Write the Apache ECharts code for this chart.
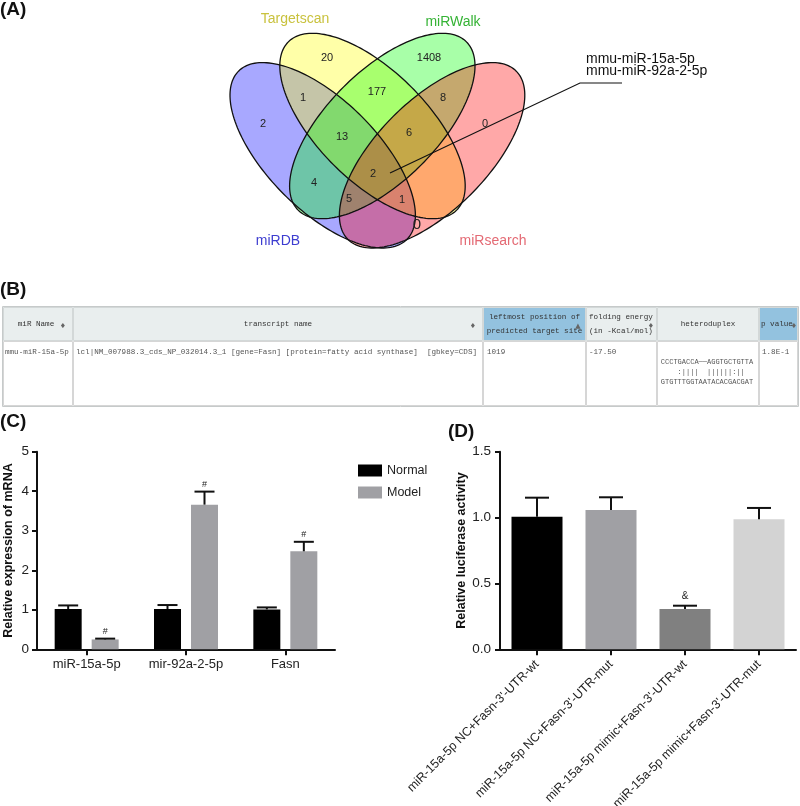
<!DOCTYPE html>
<html><head><meta charset="utf-8">
<script src="https://cdn.jsdelivr.net/npm/echarts@6/dist/echarts.min.js"></script>
<style>html,body{margin:0;padding:0;background:#fff}#c{width:800px;height:806px}</style>
</head><body><div id="c"></div>
<script>
// ---------- Panel A: Venn data ----------
const vennSets = ['miRDB', 'Targetscan', 'miRWalk', 'miRsearch'];
const vennRegions = ['miRDB', 'Targetscan', 'miRWalk', 'miRsearch', 'miRDB&Targetscan', 'Targetscan&miRWalk',
  'miRWalk&miRsearch', 'miRDB&Targetscan&miRWalk', 'Targetscan&miRWalk&miRsearch', 'all four',
  'miRDB&miRWalk', 'miRDB&miRWalk&miRsearch', 'miRDB&Targetscan&miRsearch', 'miRDB&miRsearch'];
const vennCounts = [2, 20, 1408, 0, 1, 177, 8, 13, 6, 2, 4, 5, 1, 0];
const vennCallout = ['mmu-miR-15a-5p', 'mmu-miR-92a-2-5p'];

// ---------- Panel B: table data ----------
const tableHeaders = ['miR Name', 'transcript name', 'leftmost position of\npredicted target site',
  'folding energy\n(in -Kcal/mol)', 'heteroduplex', 'p value'];
const tableRow = ['mmu-miR-15a-5p',
  'lcl|NM_007988.3_cds_NP_032014.3_1 [gene=Fasn] [protein=fatty acid synthase]  [gbkey=CDS]',
  '1019', '-17.50',
  'CCCTGACCA\u2500\u2500AGGTGCTGTTA\n    :||||  ||||||:||  \nGTGTTTGGTAATACACGACGAT', '1.8E-1'];

// ---------- Panel C data ----------
const genes = ['miR-15a-5p', 'mir-92a-2-5p', 'Fasn'];
const normalMean = [1.02, 1.02, 1.01];
const normalSD = [0.09, 0.10, 0.05];
const modelMean = [0.25, 3.66, 2.48];
const modelSD = [0.02, 0.33, 0.24];
const modelMarks = ['#', '#', '#'];

// ---------- Panel D data ----------
const groups = ["miR-15a-5p NC+Fasn-3'-UTR-wt", "miR-15a-5p NC+Fasn-3'-UTR-mut",
  "miR-15a-5p mimic+Fasn-3'-UTR-wt", "miR-15a-5p mimic+Fasn-3'-UTR-mut"];
const lucMean = [1.007, 1.058, 0.306, 0.987];
const lucSD = [0.144, 0.096, 0.025, 0.086];
const lucMarks = ['', '', '&', ''];

// ---------- layout & style ----------
const FF = "'Liberation Sans', Arial, Helvetica, sans-serif";
const MONO = "'Liberation Mono', 'Courier New', monospace";
// Venn drawn in its own hidden cartesian grid (units = px, y up)
const vennShapes = [
  { cx: 122.7, cy: 144.7, rot: -45 }, { cx: 172.5, cy: 174, rot: -45 },
  { cx: 182.3, cy: 174, rot: 45 }, { cx: 232.1, cy: 144.7, rot: 45 }];
const vennA = 119, vennB = 55;
const vennFills = ['rgba(0,0,255,0.34)', 'rgba(255,255,0,0.34)', 'rgba(0,255,0,0.34)', 'rgba(255,0,0,0.34)'];
const vennLabelColors = ['#3d3dd0', '#c9c23e', '#35b335', '#e46a74'];
const vennLabelPos = [[78, 59], [95, 281], [253, 278], [293, 59]];
const vennCountPos = [[63, 176], [127, 242], [229, 242], [285, 176], [103, 202], [177, 208], [243, 202],
  [142, 163], [209, 167], [173, 126], [114, 117], [149, 101], [202, 100], [217, 75]];
const vennCountSize = [11, 11, 11, 11, 11, 11, 11, 11, 11, 11, 11, 11, 11, 15];
const calloutPath = [[190, 127], [380, 217], [422, 217]];
const calloutTextPos = [386, 241, 229];

function ellipsePoints(e, api) {
  const pts = [], r = e.rot * Math.PI / 180;
  for (let i = 0; i < 180; i++) {
    const t = i / 180 * 2 * Math.PI;
    const x = e.cx + vennA * Math.cos(t) * Math.cos(r) - vennB * Math.sin(t) * Math.sin(r);
    const y = e.cy + vennA * Math.cos(t) * Math.sin(r) + vennB * Math.sin(t) * Math.cos(r);
    pts.push(api.coord([x, y]));
  }
  return pts;
}

// table layout
const colEdges = [3, 73, 483, 586, 657, 759, 798];
const headTop = 307, headBot = 341, rowBot = 406;
const headFill = ['#e9eeee', '#e9eeee', '#93c2df', '#e9eeee', '#e9eeee', '#93c2df'];
const headLayout = [{ x: 36, a: 'center' }, { x: 278, a: 'center' }, { x: 534.5, a: 'center' },
  { x: 589, a: 'left' }, { x: 708, a: 'center' }, { x: 761, a: 'left' }];
const headIcons = [{ x: 63, t: '\u2666' }, { x: 473, t: '\u2666' }, { x: 578, t: '\u25B2' },
  { x: 651, t: '\u2666' }, null, { x: 794, t: '\u2666' }];
const bodyLayout = [{ x: 5, a: 'left', y: 352 }, { x: 76, a: 'left', y: 352 }, { x: 487, a: 'left', y: 352 },
  { x: 589, a: 'left', y: 352 }, { x: 707, a: 'center', y: 372, lh: 10, fs: 7 }, { x: 762, a: 'left', y: 352 }];

const graphics = [];
[['(A)', 0, 10], ['(B)', 0, 290], ['(C)', 0, 422], ['(D)', 448, 432]].forEach(p => {
  graphics.push({ type: 'text', x: p[1], y: p[2], style: { text: p[0], font: 'bold 19px ' + FF, fill: '#111', verticalAlign: 'middle' } });
});
for (let i = 0; i < 6; i++) {
  const x0 = colEdges[i], x1 = colEdges[i + 1];
  graphics.push({ type: 'rect', shape: { x: x0 + 0.5, y: headTop + 0.5, width: x1 - x0 - 1, height: headBot - headTop - 1 },
    style: { fill: headFill[i], stroke: '#d3d8d8', lineWidth: 1 } });
  graphics.push({ type: 'rect', shape: { x: x0 + 0.5, y: headBot + 0.5, width: x1 - x0 - 1, height: rowBot - headBot - 1 },
    style: { fill: '#fff', stroke: '#d6d6d6', lineWidth: 1 } });
  const hl = headLayout[i];
  graphics.push({ type: 'text', x: hl.x, y: (headTop + headBot) / 2, style: { text: tableHeaders[i], font: '7.6px ' + MONO,
    fill: '#333', align: hl.a, verticalAlign: 'middle', lineHeight: 14 } });
  if (headIcons[i]) graphics.push({ type: 'text', x: headIcons[i].x, y: (headTop + headBot) / 2 + 2, style: { text: headIcons[i].t,
    font: '7px DejaVu Sans', fill: '#666', align: 'center', verticalAlign: 'middle' } });
  const bl = bodyLayout[i];
  graphics.push({ type: 'text', x: bl.x, y: bl.y, style: { text: tableRow[i], font: (bl.fs || 7.6) + 'px ' + MONO,
    fill: '#555', align: bl.a, verticalAlign: 'middle', lineHeight: bl.lh || 10 } });
}
graphics.push({ type: 'rect', shape: { x: 2.5, y: headTop - 0.5, width: 796, height: rowBot - headTop + 1 },
  style: { fill: 'none', stroke: '#c6caca', lineWidth: 1 } });

function errSeries(xi, yi, means, sds, marks, offset, capW, markSize, markGap) {
  return {
    type: 'custom', xAxisIndex: xi, yAxisIndex: yi, z: 5, clip: false,
    data: means.map((m, i) => [i, m, sds[i]]),
    renderItem: (p, api) => {
      const i = api.value(0), m = api.value(1), s = api.value(2);
      const b = api.coord([i, m]), t = api.coord([i, m + s]);
      const x = b[0] + offset;
      const st = { stroke: '#111', lineWidth: 2 };
      const ch = [
        { type: 'line', shape: { x1: x, y1: b[1], x2: x, y2: t[1] }, style: st },
        { type: 'line', shape: { x1: x - capW / 2, y1: t[1], x2: x + capW / 2, y2: t[1] }, style: st }];
      if (marks[i]) ch.push({ type: 'text', x: x, y: t[1] - markGap, style: { text: marks[i], font: markSize + 'px ' + FF,
        fill: '#222', align: 'center', verticalAlign: 'middle' } });
      return { type: 'group', children: ch };
    }
  };
}

const axisLine = { show: true, lineStyle: { color: '#111', width: 2 } };
const chart = echarts.init(document.getElementById('c'));
chart.setOption({
  animation: false,
  backgroundColor: '#fff',
  graphic: graphics,
  grid: [
    { left: 200, width: 350, top: 0, height: 300, outerBoundsMode: 'none', containLabel: false },
    { left: 37, width: 298, top: 451.7, height: 197.6, outerBoundsMode: 'none', containLabel: false },
    { left: 500, width: 296, top: 451.7, height: 197.6, outerBoundsMode: 'none', containLabel: false }],
  legend: {
    data: ['Normal', 'Model'], orient: 'vertical', left: 353, top: 459, itemWidth: 24, itemHeight: 12, itemGap: 9,
    icon: 'rect', textStyle: { fontFamily: FF, fontSize: 12.5, color: '#222' }, itemStyle: { borderWidth: 0 }
  },
  xAxis: [
    { type: 'value', gridIndex: 0, min: 0, max: 350, show: false },
    { type: 'category', gridIndex: 1, data: genes, axisLine: axisLine,
      axisTick: { show: true, alignWithLabel: true, length: 6, lineStyle: { color: '#111', width: 2 } },
      axisLabel: { fontFamily: FF, fontSize: 13, color: '#222', margin: 9 } },
    { type: 'category', gridIndex: 2, data: groups, axisLine: axisLine,
      axisTick: { show: true, alignWithLabel: true, length: 6, lineStyle: { color: '#111', width: 2 } },
      axisLabel: { fontFamily: FF, fontSize: 12.4, color: '#222', rotate: 45, interval: 0, margin: 13 } }],
  yAxis: [
    { type: 'value', gridIndex: 0, min: 0, max: 300, show: false },
    { type: 'value', gridIndex: 1, min: 0, max: 5, interval: 1, axisLine: axisLine, splitLine: { show: false },
      axisTick: { show: true, length: 5, lineStyle: { color: '#111', width: 2 } },
      axisLabel: { fontFamily: FF, fontSize: 13.5, color: '#222', margin: 8 },
      name: 'Relative expression of mRNA', nameLocation: 'middle', nameGap: 22,
      nameTextStyle: { fontFamily: FF, fontSize: 12.5, fontWeight: 'bold', color: '#111' } },
    { type: 'value', gridIndex: 2, min: 0, max: 1.5, interval: 0.5, axisLine: axisLine, splitLine: { show: false },
      axisTick: { show: true, length: 5, lineStyle: { color: '#111', width: 2 } },
      axisLabel: { fontFamily: FF, fontSize: 13.5, color: '#222', margin: 9, formatter: v => v.toFixed(1) },
      name: 'Relative luciferase activity', nameLocation: 'middle', nameGap: 31,
      nameTextStyle: { fontFamily: FF, fontSize: 12.5, fontWeight: 'bold', color: '#111' } }],
  series: [
    { type: 'custom', xAxisIndex: 0, yAxisIndex: 0, clip: false, silent: true,
      data: vennShapes.map(e => [e.cx, e.cy]),
      renderItem: (p, api) => ({ type: 'polygon', shape: { points: ellipsePoints(vennShapes[p.dataIndex], api) },
        style: { fill: vennFills[p.dataIndex], stroke: 'none' } }) },
    { type: 'custom', xAxisIndex: 0, yAxisIndex: 0, clip: false, silent: true, z: 3,
      data: vennShapes.map(e => [e.cx, e.cy]),
      renderItem: (p, api) => ({ type: 'polygon', shape: { points: ellipsePoints(vennShapes[p.dataIndex], api) },
        style: { fill: 'none', stroke: '#111', lineWidth: 1.3 } }) },
    { type: 'custom', xAxisIndex: 0, yAxisIndex: 0, clip: false, silent: true, z: 4,
      data: [calloutPath[0]],
      renderItem: (p, api) => {
        const pts = calloutPath.map(c => api.coord(c));
        const t1 = api.coord([calloutTextPos[0], calloutTextPos[1]]);
        const t2 = api.coord([calloutTextPos[0], calloutTextPos[2]]);
        return { type: 'group', children: [
          { type: 'polyline', shape: { points: pts }, style: { stroke: '#111', lineWidth: 1.2, fill: 'none' } },
          { type: 'text', x: t1[0], y: t1[1], style: { text: vennCallout[0], font: '14px ' + FF, fill: '#111', verticalAlign: 'middle' } },
          { type: 'text', x: t2[0], y: t2[1], style: { text: vennCallout[1], font: '14px ' + FF, fill: '#111', verticalAlign: 'middle' } }] };
      } },
    { type: 'custom', xAxisIndex: 0, yAxisIndex: 0, clip: false, silent: true, z: 4,
      data: vennCounts.map((c, i) => [vennCountPos[i][0], vennCountPos[i][1], c]),
      renderItem: (p, api) => {
        const pt = api.coord([api.value(0), api.value(1)]);
        return { type: 'text', x: pt[0], y: pt[1], style: { text: String(vennCounts[p.dataIndex]),
          font: vennCountSize[p.dataIndex] + 'px ' + FF, fill: '#222', align: 'center', verticalAlign: 'middle' } };
      } },
    { type: 'custom', xAxisIndex: 0, yAxisIndex: 0, clip: false, silent: true, z: 4,
      data: vennSets.map((s, i) => [vennLabelPos[i][0], vennLabelPos[i][1]]),
      renderItem: (p, api) => {
        const pt = api.coord([api.value(0), api.value(1)]);
        return { type: 'text', x: pt[0], y: pt[1], style: { text: vennSets[p.dataIndex],
          font: '14px ' + FF, fill: vennLabelColors[p.dataIndex], align: 'center', verticalAlign: 'middle' } };
      } },
    { name: 'Normal', type: 'bar', xAxisIndex: 1, yAxisIndex: 1, data: normalMean, barWidth: 27, barGap: '37%',
      itemStyle: { color: '#000' } },
    { name: 'Model', type: 'bar', xAxisIndex: 1, yAxisIndex: 1, data: modelMean, barWidth: 27,
      itemStyle: { color: '#a0a0a4' } },
    errSeries(1, 1, normalMean, normalSD, ['', '', ''], -18.5, 20, 9, 7),
    errSeries(1, 1, modelMean, modelSD, modelMarks, 18.5, 20, 9, 7),
    { type: 'bar', xAxisIndex: 2, yAxisIndex: 2, barWidth: 51,
      data: lucMean.map((v, i) => ({ value: v, itemStyle: { color: ['#000', '#a0a0a4', '#808080', '#d3d3d3'][i] } })) },
    errSeries(2, 2, lucMean, lucSD, lucMarks, 0, 24, 10, 9)
  ]
});
</script></body></html>
